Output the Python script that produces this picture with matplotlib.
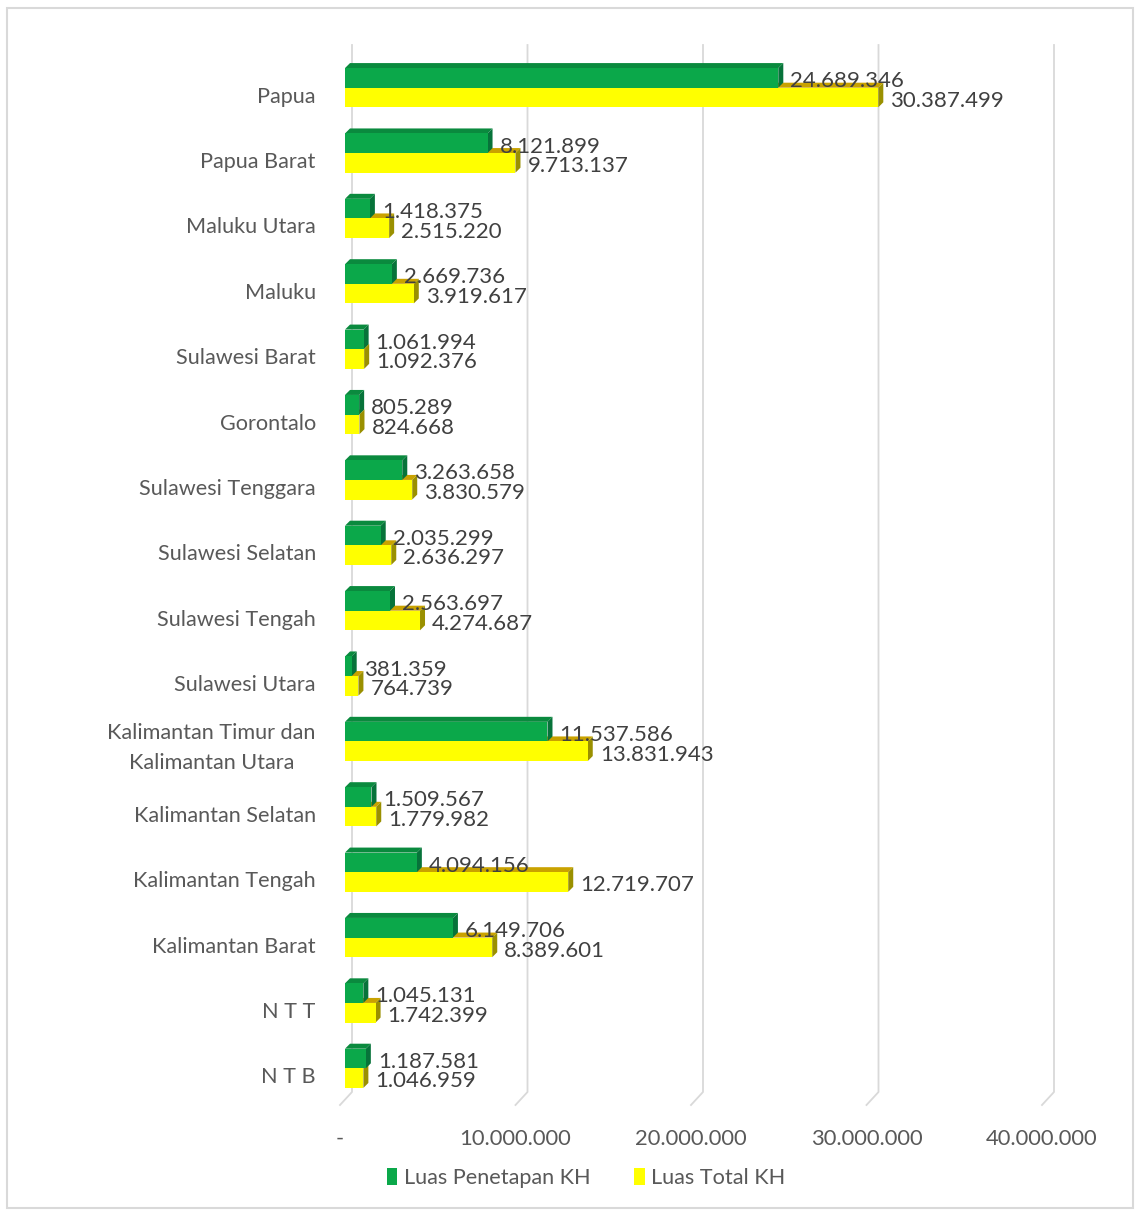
import numpy as np
import matplotlib.pyplot as plt
from matplotlib.patches import Polygon, Patch, Rectangle
from matplotlib.lines import Line2D
from matplotlib.transforms import ScaledTranslation, IdentityTransform

plt.rcParams['font.family'] = ['Lato', 'DejaVu Sans']

provinsi = ['Papua', 'Papua Barat', 'Maluku Utara', 'Maluku', 'Sulawesi Barat',
            'Gorontalo', 'Sulawesi Tenggara', 'Sulawesi Selatan', 'Sulawesi Tengah',
            'Sulawesi Utara', 'Kalimantan Timur dan\nKalimantan Utara',
            'Kalimantan Selatan', 'Kalimantan Tengah', 'Kalimantan Barat',
            'N T T', 'N T B']
penetapan = [24689346, 8121899, 1418375, 2669736, 1061994, 805289, 3263658,
             2035299, 2563697, 381359, 11537586, 1509567, 4094156, 6149706,
             1045131, 1187581]
total = [30387499, 9713137, 2515220, 3919617, 1092376, 824668, 3830579,
         2636297, 4274687, 764739, 13831943, 1779982, 12719707, 8389601,
         1742399, 1046959]
xticks = [0, 10000000, 20000000, 30000000, 40000000]

HIJAU, HIJAU_SISI, HIJAU_ATAS = '#0BA84A', '#07733A', '#0A8A3E'
KUNING, KUNING_SISI, KUNING_ATAS = '#FFFF00', '#9A9000', '#C9A200'
ABU = '#595959'

W, H = 1136, 1211
fig = plt.figure(figsize=(W / 100, H / 100), dpi=100)
ax = fig.add_axes([345 / W, 1 - 1101 / H, 702 / W, 1046 / H])
ax.set_xlim(0, 40000000)
ax.set_ylim(15.5, -0.5)
for s in ax.spines.values():
    s.set_visible(False)

# frame around the whole chart
fig.patches.append(Rectangle((7 / W, 3 / H), 1126 / W, 1200 / H, transform=fig.transFigure,
                             fill=False, edgecolor='#D9D9D9', lw=1.5))

# size of one pixel in data units, for the 3D depth of the bars
px_x = 40000000 / 702
px_y = 16 / 1046
dx, dy = 5 * px_x, -5 * px_y
h = 0.3


def bar3d(v, yc, front, side, top):
    y_top, y_bot = yc - h / 2, yc + h / 2
    ax.add_patch(Polygon([(0, y_top), (v, y_top), (v + dx, y_top + dy), (dx, y_top + dy)],
                         closed=True, facecolor=top, edgecolor='none', zorder=3))
    ax.add_patch(Polygon([(v, y_bot), (v, y_top), (v + dx, y_top + dy), (v + dx, y_bot + dy)],
                         closed=True, facecolor=side, edgecolor='none', zorder=3))
    ax.add_patch(Rectangle((0, y_top), v, h, facecolor=front, edgecolor='none', zorder=4))


# gridlines with the slanted floor part of the 3D plot
fig.canvas.draw()
for t in xticks:
    x0, _ = ax.transData.transform((t, 0))
    ytop = H - 45
    ymid = H - 1092
    ybot = H - 1105
    ax.add_line(Line2D([x0 + 7, x0 + 7, x0 - 5], [ytop, ymid, ybot], transform=IdentityTransform(),
                       color='#D9D9D9', lw=1.3, zorder=1, clip_on=False))

for i in range(len(provinsi)):
    bar3d(total[i], i + 0.15, KUNING, KUNING_SISI, KUNING_ATAS)
    bar3d(penetapan[i], i - 0.15, HIJAU, HIJAU_SISI, HIJAU_ATAS)
    ax.text(penetapan[i] + 12 * px_x, i - 0.1, f"{penetapan[i]:,}".replace(',', '.'),
            va='center', ha='left', fontsize=16, color='#404040', zorder=5)
    ax.text(total[i] + 12 * px_x, i + 0.2, f"{total[i]:,}".replace(',', '.'),
            va='center', ha='left', fontsize=16, color='#404040', zorder=5)

ax.set_yticks(range(len(provinsi)))
ax.set_yticklabels(provinsi, fontsize=15.6, color=ABU, multialignment='center', linespacing=1.6)
ax.set_xticks(xticks)
ax.set_xticklabels(['-' if t == 0 else f"{t:,}".replace(',', '.') for t in xticks],
                   fontsize=15.8, color=ABU)
ax.tick_params(axis='y', length=0, pad=21)
ax.tick_params(axis='x', length=0, pad=20)
for lab in ax.get_xticklabels():
    lab.set_transform(lab.get_transform() + ScaledTranslation(-5 / 100, 0, fig.dpi_scale_trans))
for lab in ax.get_yticklabels():
    turun = 0 if '\n' in lab.get_text() else 7
    lab.set_transform(lab.get_transform() + ScaledTranslation(0, -turun / 100, fig.dpi_scale_trans))

handles = [Patch(facecolor=HIJAU, label='Luas Penetapan KH'),
           Patch(facecolor=KUNING, label='Luas Total KH')]
fig.legend(handles=handles, loc='center', bbox_to_anchor=(586 / W, 1 - 1178 / H), ncol=2,
           frameon=False, fontsize=15.6, handlelength=0.5, handleheight=0.8, handletextpad=0.3,
           columnspacing=2.0, labelcolor=ABU)

fig.savefig('out.png', dpi=100)
